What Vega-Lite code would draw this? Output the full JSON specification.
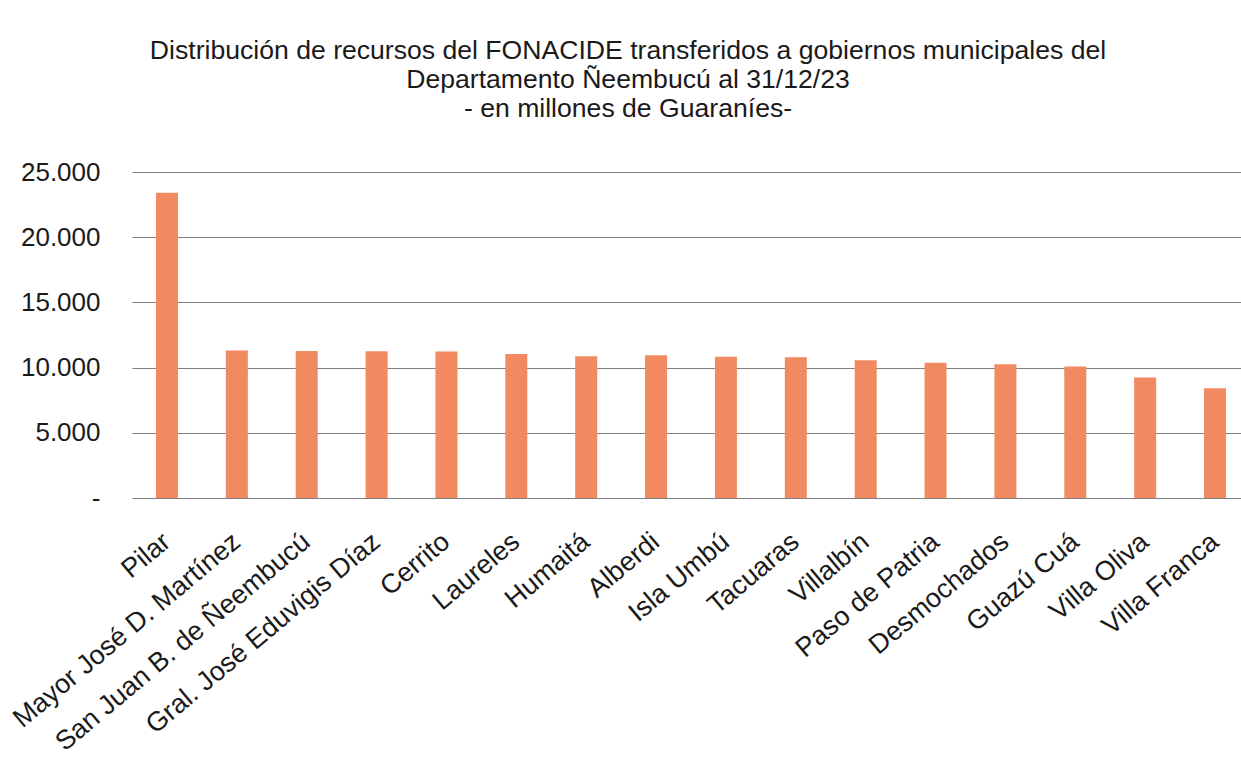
{
  "$schema": "https://vega.github.io/schema/vega-lite/v6.json",
  "autosize": {"type": "none"},
  "padding": {"left": 132, "top": 172, "right": 0, "bottom": 271},
  "width": 1118,
  "height": 326,
  "background": "white",
  "title": {
    "text": ["Distribución de recursos del FONACIDE transferidos a gobiernos municipales del", "Departamento Ñeembucú al 31/12/23", "- en millones de Guaraníes-"],
    "font": "Liberation Sans",
    "fontSize": 26.6,
    "fontWeight": "normal",
    "color": "#1a1a1a",
    "lineHeight": 29,
    "anchor": "middle",
    "dx": -63,
    "offset": 36
  },
  "data": {
    "values": [
      {"municipio": "Pilar", "monto": 23400},
      {"municipio": "Mayor José D. Martínez", "monto": 11320},
      {"municipio": "San Juan B. de Ñeembucú", "monto": 11270},
      {"municipio": "Gral. José Eduvigis Díaz", "monto": 11260},
      {"municipio": "Cerrito", "monto": 11240},
      {"municipio": "Laureles", "monto": 11050},
      {"municipio": "Humaitá", "monto": 10870},
      {"municipio": "Alberdi", "monto": 10950},
      {"municipio": "Isla Umbú", "monto": 10830},
      {"municipio": "Tacuaras", "monto": 10790},
      {"municipio": "Villalbín", "monto": 10560},
      {"municipio": "Paso de Patria", "monto": 10380},
      {"municipio": "Desmochados", "monto": 10260},
      {"municipio": "Guazú Cuá", "monto": 10080},
      {"municipio": "Villa Oliva", "monto": 9240},
      {"municipio": "Villa Franca", "monto": 8420}
    ]
  },
  "mark": {"type": "bar", "color": "#F18A60"},
  "encoding": {
    "x": {
      "field": "municipio",
      "type": "nominal",
      "sort": null,
      "scale": {"paddingInner": 0.685, "paddingOuter": 0.343},
      "axis": {
        "title": null,
        "domain": false,
        "ticks": false,
        "labelAngle": -40,
        "labelAlign": "right",
        "labelBaseline": "middle",
        "labelPadding": 40,
        "labelFont": "Liberation Sans",
        "labelFontSize": 27,
        "labelColor": "#1a1a1a",
        "labelOverlap": false,
        "labelLimit": 0
      }
    },
    "y": {
      "field": "monto",
      "type": "quantitative",
      "scale": {"domain": [0, 25000]},
      "axis": {
        "title": null,
        "domain": false,
        "ticks": false,
        "values": [0, 5000, 10000, 15000, 20000, 25000],
        "format": ",.0f",
        "labelExpr": "datum.value === 0 ? '-' : replace(datum.label, ',', '.')",
        "labelPadding": 32,
        "labelFont": "Liberation Sans",
        "labelFontSize": 26,
        "labelColor": "#1a1a1a",
        "labelOverlap": false,
        "grid": true,
        "gridColor": "#808080",
        "gridWidth": 1.2
      }
    }
  },
  "config": {
    "view": {"stroke": null}
  }
}
